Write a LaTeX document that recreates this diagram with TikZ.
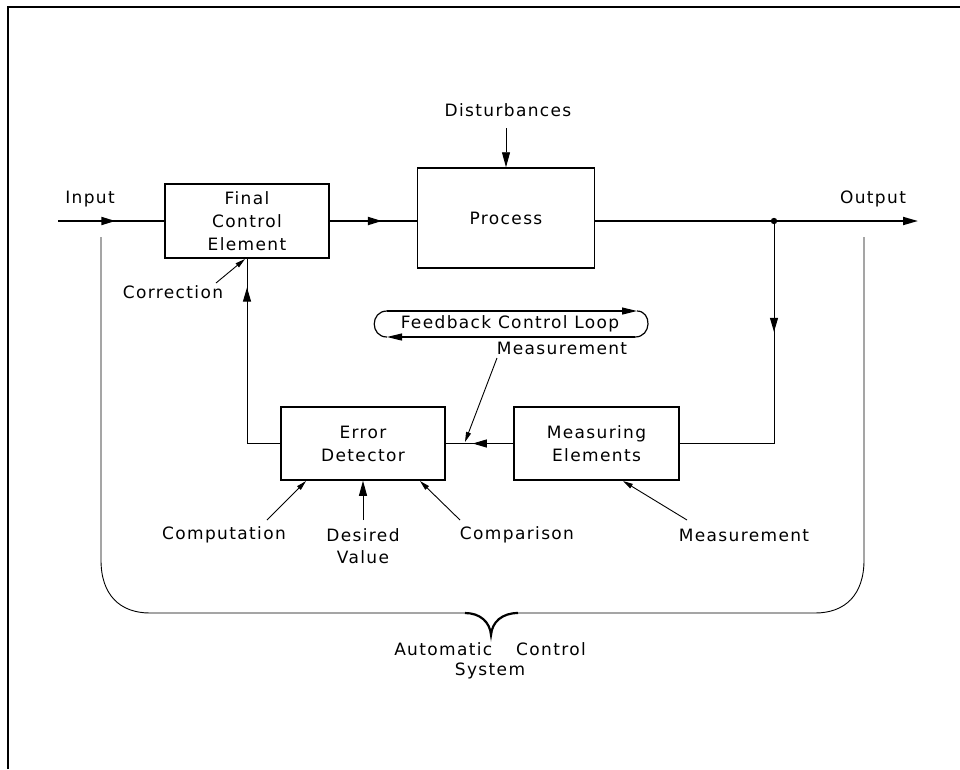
\documentclass[tikz,border=0pt]{standalone}
\usepackage{fontspec}
\setmainfont{DejaVu Sans}[LetterSpace=8]
\usetikzlibrary{arrows.meta,decorations.markings}
\begin{document}
\begin{tikzpicture}[x=1pt,y=-1pt,
  txt/.style={font=\fontsize{17}{23}\selectfont, align=center, inner sep=0pt},
  box/.style={draw, line width=1.5pt, txt},
  sigline/.style={line width=1.8pt},
  thinline/.style={line width=0.9pt},
  bigtip/.style={-{Triangle[length=15pt,width=8pt]}},
  smalltip/.style={-{Triangle[length=10pt,width=5pt]}},
  midarrow/.style={postaction={decorate}, decoration={markings,
      mark=at position #1 with {\arrow{Triangle[length=14pt,width=8pt]}}}}
]
\useasboundingbox (0,0) rectangle (960,769);
% frame
\draw[line width=2pt] (8,769) -- (8,7) -- (960,7);

% blocks
\node[box, minimum width=164pt, minimum height=74pt] (fce) at (247,221) {Final\\Control\\Element};
\node[box, minimum width=177pt, minimum height=100pt] (proc) at (506,218) {Process};
\node[box, minimum width=164pt, minimum height=73pt] (ed) at (363,443.5) {Error\\Detector};
\node[box, minimum width=165pt, minimum height=73pt] (me) at (596.5,443.5) {Measuring\\Elements};

% labels
\node[txt] (inlab) at (90,199) {Input};
\node[txt] (outlab) at (873,199) {Output};
\node[txt] (dist) at (508,110) {Disturbances};
\node[txt] (corr) at (173,292) {Correction};
\node[txt] (meas1) at (562,348) {Measurement};
\node[txt] (comp) at (224,535) {Computation};
\node[txt, font=\fontsize{17}{22}\selectfont] (des) at (363,546) {Desired\\Value};
\node[txt] (cmpr) at (517,535) {Comparison};
\node[txt] (meas2) at (744,535) {Measurement};
\node[txt] (fcl) at (510,324) {Feedback Control Loop};
\node[txt, font=\fontsize{17}{20}\selectfont] (acs) at (490,661) {Automatic\hspace{1.4em}Control\\System};

% coordinates
\coordinate (in) at (58,221);
\coordinate (out) at (918,221);
\coordinate (tap) at (774,221);
\coordinate (distA) at (506,128);
\coordinate (corrA) at (216,283);
\coordinate (corrB) at (245,259);
\coordinate (meas1A) at (497,358);
\coordinate (meas1B) at (465,442);
\coordinate (compA) at (267,520);
\coordinate (compB) at (306,481);
\coordinate (desA) at (363,520);
\coordinate (cmprA) at (460,520);
\coordinate (cmprB) at (420,481);
\coordinate (meas2A) at (687,520);
\coordinate (meas2B) at (623,481);

% main signal path
\draw[sigline, midarrow=0.54] (in) -- (fce.west);
\draw[sigline, midarrow=0.6] (fce.east) -- (fce.east -| proc.west);
\draw[sigline, bigtip] (fce.east -| proc.east) -- (out);
\fill (tap) circle (3.2pt);
\draw[thinline, bigtip] (distA) -- (proc.north);

% feedback path
\draw[thinline, midarrow=0.35] (tap) |- (me.east);
\draw[thinline, midarrow=0.6] (me.west) -- (ed.east);
\draw[thinline, midarrow=0.868] (ed.west) -| (fce.south);

% annotation arrows
\draw[thinline, smalltip] (corrA) -- (corrB);
\draw[thinline, smalltip] (meas1A) -- (meas1B);
\draw[thinline, smalltip] (compA) -- (compB);
\draw[thinline, bigtip] (desA) -- (ed.south);
\draw[thinline, smalltip] (cmprA) -- (cmprB);
\draw[thinline, smalltip] (meas2A) -- (meas2B);

% feedback control loop symbol
\draw[line width=1.2pt, -{Triangle[length=15pt,width=7pt]}] (387,311) -- (637,311);
\draw[line width=1.2pt] (637,311) .. controls (652,311) and (652,337) .. (635,337);
\draw[line width=1.2pt, -{Triangle[length=15pt,width=7pt]}] (635,337) -- (387,337);
\draw[line width=1.2pt] (387,337) .. controls (370,337) and (370,311) .. (387,311);

% brace
\draw[thinline] (101,237) -- (101,560) .. controls (101,595) and (120,613) .. (150,613) -- (465,613);
\draw[line width=2.2pt] (465,613) .. controls (480,613) and (490,622) .. (491,635)
      .. controls (492,622) and (502,613) .. (518,613);
\draw[thinline] (518,613) -- (815,613) .. controls (845,613) and (864,595) .. (864,560) -- (864,237);
\end{tikzpicture}
\end{document}
